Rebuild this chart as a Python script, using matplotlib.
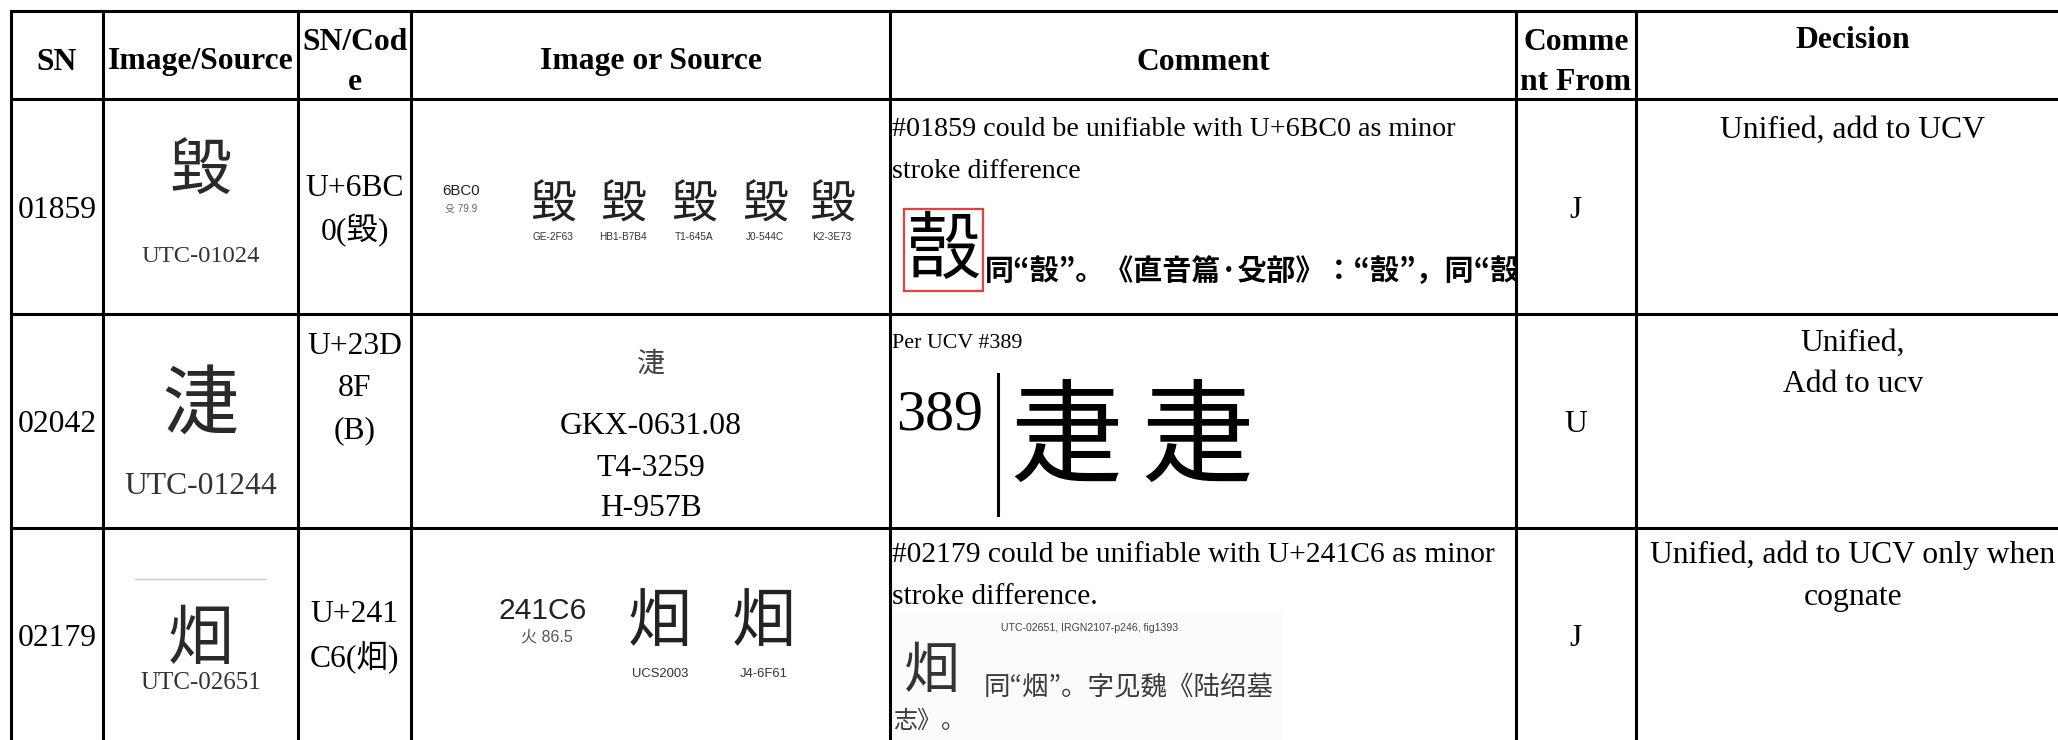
"""
IRG review table excerpt (SN 01859 / 02042 / 02179) redrawn with matplotlib.
"""
import matplotlib
matplotlib.use('Agg')
import matplotlib.pyplot as plt
from matplotlib.patches import Rectangle

# === Table content ===
HEADERS = ['SN', 'Image/Source', 'SN/Cod\ne', 'Image or Source', 'Comment', 'Comme\nnt From', 'Decision']
SN = ['01859', '02042', '02179']
UTC_GLYPHS = ['毀', '\U00023D8F', '\U000241C6']
UTC_IDS = ['UTC-01024', 'UTC-01244', 'UTC-02651']
CODES = ['U+6BC\n0(毀)', 'U+23D\n8F\n(B)', 'U+241\nC6(\U000241C6)']
COMMENTS = ['#01859 could be unifiable with U+6BC0 as minor\nstroke difference',
            'Per UCV #389',
            '#02179 could be unifiable with U+241C6 as minor\nstroke difference.']
COMMENT_SIZE = [28, 22, 29.5]   # px
COMMENT_FROM = ['J', 'U', 'J']
DECISIONS = ['Unified, add to UCV', 'Unified,\nAdd to ucv', 'Unified, add to UCV only when\ncognate']

# source cells (image or source column)
SRC1_CODE, SRC1_RAD = '6BC0', '殳 79.9'
SRC1_GLYPH = '毀'
SRC1_LABELS = ['GE-2F63', 'HB1-B7B4', 'T1-645A', 'J0-544C', 'K2-3E73']
SRC2_GLYPH = '\U00023D8F'
SRC2_LINES = ['GKX-0631.08', 'T4-3259', 'H-957B']
SRC3_CODE, SRC3_RAD = '241C6', '火 86.5'
SRC3_GLYPH = '\U000241C6'
SRC3_LABELS = ['UCS2003', 'J4-6F61']

# evidence pasted in the comment column
EV1_CHAR = '嗀'
EV1_TEXT = '同“嗀”。《直音篇·殳部》：“嗀”，同“嗀”'
EV2_NUM = '389'
EV2_CHARS = ['疌', '疌']
EV3_LABEL = 'UTC-02651, IRGN2107-p246, fig1393'
EV3_TEXT = ['同“烟”。字见魏《陆绍墓', '志》。']

# === Layout (pixels) ===
W, H = 2058, 740
COL_X = [11, 103, 298, 411, 890, 1516, 1636, 2070]
ROW_Y = [11, 99, 314, 528, 742]
PX = 0.72          # pt per px at dpi 100
LW = 2.2

SERIF = ['Liberation Serif', 'Noto Sans CJK SC', 'Noto Sans CJK JP', 'Noto Sans CJK TC']
SANS = ['Liberation Sans', 'Noto Sans CJK SC']
CJK = ['Noto Sans CJK JP', 'Noto Sans CJK TC', 'Noto Sans CJK SC']
BODY = 31.7 * PX

fig = plt.figure(figsize=(W / 100, H / 100), dpi=100)
ax = fig.add_axes([0, 0, 1, 1])
ax.set_xlim(0, W)
ax.set_ylim(H, 0)
ax.axis('off')


def cx(c):
    return (COL_X[c] + COL_X[c + 1]) / 2


def lines(x, y0, text, pitch=42, **kw):
    for i, s in enumerate(text.split('\n')):
        ax.text(x, y0 + i * pitch, s, va='center', **kw)


# grid
for y in ROW_Y[:-1]:
    ax.plot([COL_X[0], W + 20], [y, y], color='black', lw=LW, solid_capstyle='projecting', zorder=3)
for x in COL_X[:-1]:
    ax.plot([x, x], [ROW_Y[0], H + 20], color='black', lw=LW, solid_capstyle='projecting', zorder=3)

# header
hdr = dict(family=SERIF, fontsize=BODY, fontweight='bold', ha='center')
for c, h in enumerate(HEADERS):
    if h == 'Decision':
        lines(cx(c), 41, h, **hdr)
    elif '\n' in h:
        lines(cx(c), 42, h, pitch=41, **hdr)
    else:
        lines(cx(c), 62, h, **hdr)

body = dict(family=SERIF, fontsize=BODY, color='black')
row_mid = [(ROW_Y[i + 1] + ROW_Y[i + 2]) / 2 for i in range(3)]

# SN, comment-from columns
for r in range(3):
    ax.text(cx(0), row_mid[r] + 4, SN[r], ha='center', va='center', **body)
    ax.text(cx(5), row_mid[r] + 4, COMMENT_FROM[r], ha='center', va='center', **body)

# image/source column
glyph_y = [172, 406, 640]
glyph_sz = [62, 76, 66]
id_y = [257, 487, 683]
id_sz = [24.5, 31.7, 25]
for r in range(3):
    ax.text(cx(1), glyph_y[r], UTC_GLYPHS[r], ha='center', va='center', family=CJK,
            fontsize=glyph_sz[r] * PX, color='#2a2a2a')
    ax.text(cx(1), id_y[r], UTC_IDS[r], ha='center', va='center', family=SERIF,
            fontsize=id_sz[r] * PX, color='#333333')
ax.plot([135, 265], [579, 579], color='#c8c8c8', lw=1.0)

# SN/Code column
code_y = [189, 347, 615]
for r in range(3):
    lines(cx(2), code_y[r], CODES[r], ha='center', **body)

# comment column text + decision
com_y = [130, 343, 555]
for r in range(3):
    lines(COL_X[4] + 2, com_y[r], COMMENTS[r], ha='left', family=SERIF,
          fontsize=COMMENT_SIZE[r] * PX, color='black')
    lines(cx(6), com_y[r], DECISIONS[r], ha='center', **body)

# --- source cell, row 1 ---
ax.text(461, 191, SRC1_CODE, ha='center', va='center', family=SANS, fontsize=15 * PX, color='#222222')
ax.text(461, 208, SRC1_RAD, ha='center', va='center', family=SANS, fontsize=10 * PX, color='#666666')
src1_x = [553, 623, 694, 765, 832]
for x, lab in zip(src1_x, SRC1_LABELS):
    ax.text(x, 205, SRC1_GLYPH, ha='center', va='center', family=CJK, fontsize=46 * PX, color='#222222')
    ax.text(x, 237, lab, ha='center', va='center', family=SANS, fontsize=10 * PX, color='#333333')

# --- source cell, row 2 ---
ax.text(cx(3), 364, SRC2_GLYPH, ha='center', va='center', family=CJK, fontsize=28 * PX, color='#444444')
lines(cx(3), 427, '\n'.join(SRC2_LINES), pitch=41, ha='center', **body)

# --- source cell, row 3 ---
ax.text(543, 611, SRC3_CODE, ha='center', va='center', family=SANS, fontsize=30 * PX, color='#222222')
ax.text(547, 637, SRC3_RAD, ha='center', va='center', family=SANS, fontsize=16 * PX, color='#555555')
src3_x = [660, 764]
for x, lab in zip(src3_x, SRC3_LABELS):
    ax.text(x, 623, SRC3_GLYPH, ha='center', va='center', family=CJK, fontsize=64 * PX, color='#222222')
    ax.text(x, 674, lab, ha='center', va='center', family=SANS, fontsize=13 * PX, color='#333333')

# --- evidence, row 1: pasted clipping, cut off by the cell edge ---
ax.add_patch(Rectangle((904, 209), 79, 82, fill=False, edgecolor='#e84040', lw=1.6))
ax.text(943, 252, EV1_CHAR, ha='center', va='center', family=CJK, fontsize=74 * PX, color='black')
x0, x1, y0, y1 = COL_X[4], COL_X[5] - 1, ROW_Y[1], ROW_Y[2]
cell = fig.add_axes([x0 / W, 1 - y1 / H, (x1 - x0) / W, (y1 - y0) / H])
cell.set_xlim(x0, x1)
cell.set_ylim(y1, y0)
cell.axis('off')
cell.patch.set_visible(False)
cell.text(985, 271, EV1_TEXT, ha='left', va='center', family=CJK, fontsize=29 * PX,
          fontweight='bold', color='black', clip_on=True)

# --- evidence, row 2 ---
ax.text(940, 415, EV2_NUM, ha='center', va='center', family=SERIF, fontsize=58 * PX, color='black')
ax.plot([998, 998], [374, 515], color='black', lw=2.2)
for x, ch in zip([1066, 1197], EV2_CHARS):
    ax.text(x, 442, ch, ha='center', va='center', family=CJK, fontsize=112 * PX, color='black')

# --- evidence, row 3 ---
ax.add_patch(Rectangle((892, 612), 390, 128, color='#fbfbfb', lw=0, zorder=0))
ax.text(1090, 628, EV3_LABEL, ha='center', va='center', family=SANS, fontsize=10.5 * PX, color='#444444')
ax.text(931, 672, SRC3_GLYPH, ha='center', va='center', family=CJK, fontsize=56 * PX, color='#333333')
ax.text(984, 688, EV3_TEXT[0], ha='left', va='center', family=CJK, fontsize=26.5 * PX, color='#3a3a3a')
ax.text(893, 721, EV3_TEXT[1], ha='left', va='center', family=CJK, fontsize=24 * PX, color='#3a3a3a')

fig.savefig('out.png', dpi=100)
